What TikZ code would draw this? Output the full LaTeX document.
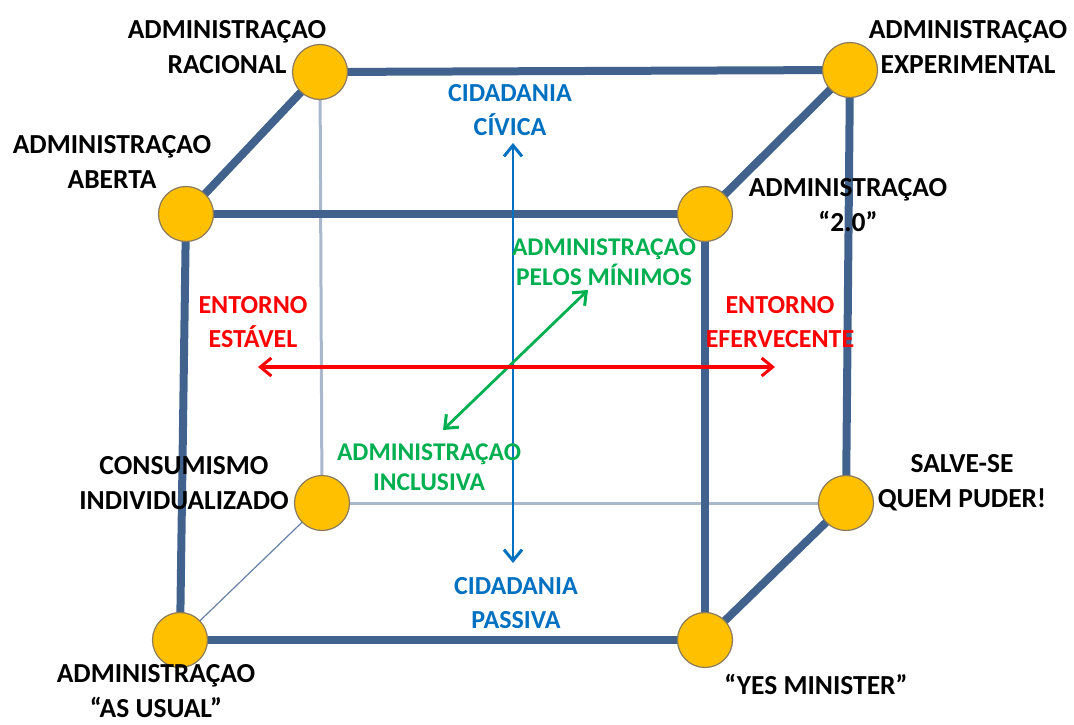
\documentclass[tikz,border=0pt]{standalone}
\usepackage{fontspec}
\setmainfont{Carlito}
\usetikzlibrary{arrows.meta}
\definecolor{edgeblue}{HTML}{41628D}
\definecolor{edgelight}{HTML}{A9B8CC}
\definecolor{ballfill}{HTML}{FFC000}
\definecolor{ballline}{HTML}{8A7B5C}
\definecolor{axisblue}{HTML}{0070C0}
\definecolor{axisgreen}{HTML}{00B050}
\definecolor{axisred}{HTML}{FF0000}
\tikzset{
  ball/.style={circle,fill=ballfill,draw=ballline,line width=1.2pt,minimum size=55pt,inner sep=0pt},
  thickedge/.style={edgeblue,line width=8pt},
  lightedge/.style={edgelight,line width=3pt},
  thinedge/.style={edgeblue!80,line width=1.2pt},
  lab/.style={align=center,font=\fontsize{27.5}{35}\selectfont\bfseries,text=black},
  clab/.style={align=center,font=\fontsize{26}{34}\selectfont\bfseries},
  glab/.style={align=center,font=\fontsize{25.5}{30}\selectfont\bfseries,text=axisgreen},
  axis/.style={{Straight Barb[length=11pt,width=18pt,line width=3pt]}-{Straight Barb[length=11pt,width=18pt,line width=3pt]}},
}
\begin{document}
\begin{tikzpicture}[x=1pt,y=-1pt]
\useasboundingbox (0,0) rectangle (1074,725);
% corner positions
\coordinate (pBTL) at (320,72);
\coordinate (pBTR) at (850,70);
\coordinate (pFTL) at (186,214);
\coordinate (pFTR) at (705,214);
\coordinate (pBBL) at (322,503);
\coordinate (pBBR) at (846,503);
\coordinate (pFBL) at (180,640);
\coordinate (pFBR) at (705,640);
% edges
\draw[lightedge] (pBTL) -- (pBBL);
\draw[lightedge] (pBBL) -- (pBBR);
\draw[thinedge] (pBBL) -- (pFBL);
\draw[thickedge] (pBTL) -- (pBTR);
\draw[thickedge] (pFTL) -- (pFTR);
\draw[thickedge] (pBTL) -- (pFTL);
\draw[thickedge] (pBTR) -- (pFTR);
\draw[thickedge] (pFTL) -- (pFBL);
\draw[thickedge] (pFTR) -- (pFBR);
\draw[thickedge] (pBTR) -- (pBBR);
\draw[thickedge] (pFBL) -- (pFBR);
\draw[thickedge] (pBBR) -- (pFBR);
% axes
\coordinate (bTop) at (513,143);
\coordinate (bBot) at (513,563);
\coordinate (rL) at (258,367);
\coordinate (rR) at (775,367);
\coordinate (gL) at (443,430);
\coordinate (gR) at (588,290);
\draw[axis,axisblue,line width=2.2pt] (bTop) -- (bBot);
\draw[axis,axisgreen,line width=2.8pt] (gL) -- (gR);
\draw[axis,axisred,line width=3.8pt] (rL) -- (rR);
% balls
\node[ball] (BTL) at (pBTL) {};
\node[ball] (BTR) at (pBTR) {};
\node[ball] (FTL) at (pFTL) {};
\node[ball] (FTR) at (pFTR) {};
\node[ball] (BBL) at (pBBL) {};
\node[ball] (BBR) at (pBBR) {};
\node[ball] (FBL) at (pFBL) {};
\node[ball] (FBR) at (pFBR) {};
% labels
\node[lab] (tRac) at (227,47) {ADMINISTRAÇAO\\RACIONAL};
\node[lab] (tExp) at (968,47) {ADMINISTRAÇAO\\EXPERIMENTAL};
\node[lab] (tAbe) at (112,162) {ADMINISTRAÇAO\\ABERTA};
\node[lab] (tDoi) at (848,205) {ADMINISTRAÇAO\\“2.0”};
\node[lab] (tCon) at (184,483) {CONSUMISMO\\INDIVIDUALIZADO};
\node[lab] (tSal) at (962,483) {SALVE-SE\\QUEM PUDER!};
\node[lab,inner sep=0.5pt] (tUsu) at (156,691) {ADMINISTRAÇAO\\“AS USUAL”};
\node[lab] (tYes) at (816,684) {“YES MINISTER”};
\node[clab,text=axisblue] (tCiv) at (510,110) {CIDADANIA\\CÍVICA};
\node[clab,text=axisblue] (tPas) at (516,603) {CIDADANIA\\PASSIVA};
\node[glab] (tMin) at (604,262) {ADMINISTRAÇAO\\PELOS MÍNIMOS};
\node[glab] (tInc) at (429,467) {ADMINISTRAÇAO\\INCLUSIVA};
\node[clab,text=axisred] (tEst) at (253,322) {ENTORNO\\ESTÁVEL};
\node[clab,text=axisred] (tEfe) at (780,322) {ENTORNO\\EFERVECENTE};
\end{tikzpicture}
\end{document}
